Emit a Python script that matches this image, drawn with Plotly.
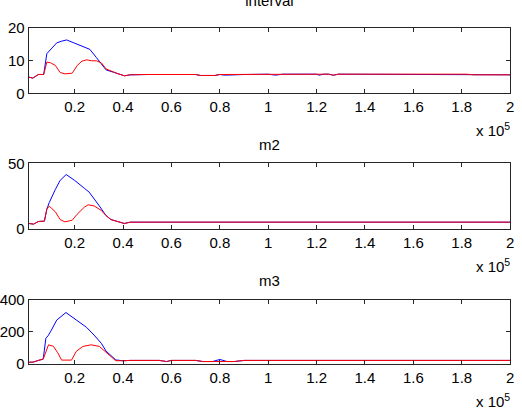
import plotly.graph_objects as go

# ---------------- data (x in samples, shown as x 10^5) ----------------
int_blue_x = [1000, 2700, 5000, 7200, 8500, 10000, 12600, 14500, 16700, 20000, 23000, 26300, 29000, 31000,
              33000, 36000, 38000, 40600, 43000, 50000, 70000, 72000, 78000, 80000, 82000, 88000, 90000,
              100000, 103000, 106000, 120000, 121000, 123000, 125000, 127000, 129000, 182000, 185000, 200000]
int_blue_y = [5.0, 4.7, 5.8, 5.8, 12.2, 13.5, 15.5, 16.0, 16.4, 15.4, 14.6, 13.5, 11.0, 9.0,
              7.2, 6.5, 6.0, 5.4, 5.7, 5.8, 5.8, 5.5, 5.5, 5.8, 5.6, 5.6, 5.8,
              5.9, 5.6, 5.9, 5.9, 5.6, 5.9, 5.9, 5.6, 5.9, 5.9, 5.7, 5.7]
int_red_x = [1000, 2700, 5000, 7200, 8500, 10000, 12000, 14000, 16000, 19000, 21000, 23000, 25000, 27000,
             29000, 31000, 33000, 36000, 38000, 40600, 43000, 50000, 70000, 72000, 78000, 80000, 90000,
             100000, 125000, 127000, 129000, 182000, 185000, 200000]
int_red_y = [5.0, 4.7, 5.8, 5.8, 9.6, 9.4, 8.6, 6.4, 6.0, 6.2, 8.5, 9.9, 10.3, 10.0,
             10.0, 9.4, 7.5, 6.5, 6.0, 5.4, 5.7, 5.8, 5.8, 5.5, 5.5, 5.8, 5.8,
             5.9, 5.9, 5.6, 5.9, 5.9, 5.7, 5.7]

m2_blue_x = [1000, 3000, 5000, 7500, 8500, 9500, 12000, 14000, 16500, 20000, 24000, 26000, 30000, 33000,
             35000, 38000, 40500, 43000, 200000]
m2_blue_y = [4.0, 3.5, 5.5, 5.8, 15.0, 20.0, 30.0, 37.0, 41.5, 37.0, 31.0, 28.0, 18.0, 10.0,
             7.0, 5.5, 4.0, 5.0, 5.0]
m2_red_x = [1000, 3000, 5000, 7500, 8500, 9500, 12000, 14000, 16000, 19000, 21000, 24000, 25600, 28000,
            31000, 33000, 35000, 38000, 40500, 43000, 200000]
m2_red_y = [4.0, 3.5, 5.5, 5.8, 15.0, 17.3, 13.0, 7.0, 5.2, 6.5, 11.0, 16.5, 18.3, 17.5,
            14.0, 10.0, 7.0, 5.5, 4.0, 5.0, 5.0]

m3_blue_x = [1000, 3000, 5000, 7000, 8100, 9000, 10000, 12600, 16400, 20000, 24900, 28000, 31000, 33000,
             35000, 37000, 40000, 43000, 55000, 58000, 60000, 70000, 73000, 77000, 80000, 83000, 86000,
             90000, 200000]
m3_blue_y = [10, 12, 22, 30, 160, 175, 200, 273, 320, 280, 228, 180, 129, 80,
             50, 25, 20, 22, 22, 15, 22, 22, 15, 15, 28, 15, 15,
             22, 22]
m3_red_x = [1000, 3000, 5000, 7000, 9200, 11200, 13000, 14600, 18700, 20700, 23400, 26800, 30200, 33600,
            37000, 40000, 43000, 55000, 58000, 60000, 70000, 73000, 77000, 80000, 83000, 86000, 90000,
            200000]
m3_red_y = [10, 12, 22, 30, 119, 110, 70, 24, 24, 79, 109, 119, 109, 63,
            20, 20, 22, 22, 15, 22, 22, 15, 15, 18, 15, 15, 22,
            22]

panel_titles = ["interval", "m2", "m3"]
y_ranges = [[0, 20], [0, 50], [0, 400]]
y_ticks = [[0, 10, 20], [0, 50], [0, 200, 400]]
x_tickvals = [20000, 40000, 60000, 80000, 100000, 120000, 140000, 160000, 180000, 200000]
x_ticktext = ["0.2", "0.4", "0.6", "0.8", "1", "1.2", "1.4", "1.6", "1.8", "2"]

series = [
    (int_blue_x, int_blue_y, int_red_x, int_red_y),
    (m2_blue_x, m2_blue_y, m2_red_x, m2_red_y),
    (m3_blue_x, m3_blue_y, m3_red_x, m3_red_y),
]

W, H = 522, 418
x_dom = [27 / W, 514 / W]
px_boxes = [(20, 88), (161, 229), (303, 370)]
y_doms = [[1 - b / H, 1 - t / H] for t, b in px_boxes]

FONT = "Liberation Sans, Arial, sans-serif"
FS = 15
fig = go.Figure()
annotations = []
for i, (bx, by, rx, ry) in enumerate(series):
    n = i + 1
    xa = "x" if n == 1 else f"x{n}"
    ya = "y" if n == 1 else f"y{n}"
    fig.add_trace(go.Scatter(x=bx, y=by, mode="lines", line=dict(color="#0000ff", width=1),
                             xaxis=xa, yaxis=ya, showlegend=False))
    fig.add_trace(go.Scatter(x=rx, y=ry, mode="lines", line=dict(color="#ff0000", width=1),
                             xaxis=xa, yaxis=ya, showlegend=False))
    axis_common = dict(showline=True, mirror="ticks", linecolor="#262626", linewidth=1,
                       ticks="inside", ticklen=4, tickcolor="#262626", showgrid=False,
                       zeroline=False, tickfont=dict(family=FONT, size=FS, color="black"))
    fig.layout[f"xaxis{'' if n == 1 else n}"] = dict(
        domain=x_dom, anchor=ya, range=[1000, 200000], tickvals=x_tickvals,
        ticktext=x_ticktext, **axis_common)
    fig.layout[f"yaxis{'' if n == 1 else n}"] = dict(
        domain=y_doms[i], anchor=xa, range=y_ranges[i], tickvals=y_ticks[i], **axis_common)
    top, bottom = px_boxes[i]
    if i > 0:
        annotations.append(dict(text=panel_titles[i], xref="paper", yref="paper",
                                x=(x_dom[0] + x_dom[1]) / 2, y=1 - (top - 9) / H,
                                xanchor="center", yanchor="bottom", showarrow=False,
                                font=dict(family=FONT, size=FS, color="black")))
    annotations.append(dict(text="x 10<sup>5</sup>", xref="paper", yref="paper",
                            x=516 / W, y=1 - (bottom + 38) / H,
                            xanchor="right", yanchor="middle", showarrow=False,
                            font=dict(family=FONT, size=FS, color="black")))

fig.update_layout(width=W, height=H, margin=dict(l=0, r=0, t=0, b=0),
                  title=dict(text=panel_titles[0], x=(x_dom[0] + x_dom[1]) / 2, xanchor="center",
                             xref="paper", y=1 - 1 / H, yanchor="middle", yref="container",
                             font=dict(family=FONT, size=FS, color="black")),
                  paper_bgcolor="white", plot_bgcolor="white", annotations=annotations)
fig.write_html("out.html")
